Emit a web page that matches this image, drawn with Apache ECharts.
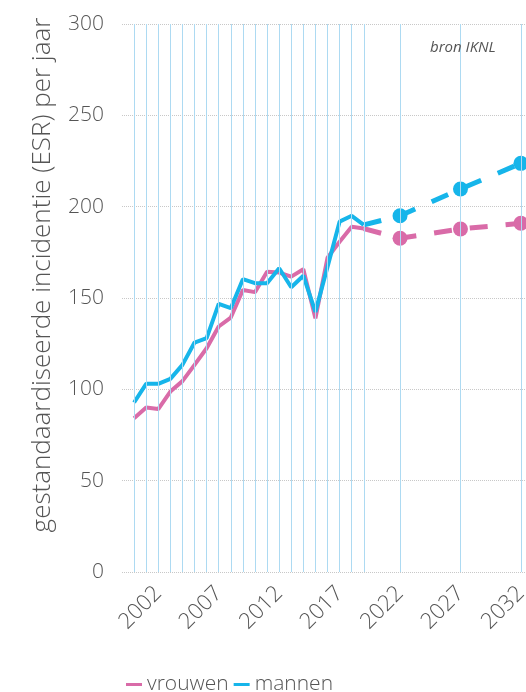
<!DOCTYPE html>
<html>
<head>
<meta charset="utf-8">
<script src="https://cdn.jsdelivr.net/npm/echarts@6/dist/echarts.min.js"></script>
<style>
  html, body { margin: 0; padding: 0; background: #fff; overflow: hidden; }
  #chart { width: 526px; height: 692px; }
</style>
</head>
<body>
<div id="chart"></div>
<script>
// gemeten jaren
const years = [2000, 2001, 2002, 2003, 2004, 2005, 2006, 2007, 2008, 2009,
  2010, 2011, 2012, 2013, 2014, 2015, 2016, 2017, 2018, 2019]
const vrouwen = [84.2, 90.0, 89.2, 98.8, 104.5, 113.4, 122.5, 134.4, 139.3, 154.4,
  153.2, 164.4, 163.9, 161.7, 165.7, 138.9, 172, 180.8, 189, 188]
const mannen = [92.8, 103, 103, 105.7, 113.4, 125.6, 128, 146.8, 144.4, 160.3,
  158.1, 158.1, 166.3, 155.9, 162.2, 142.4, 167, 191.8, 195, 190]

// prognose
const projYears = [2022, 2027, 2032]
const vrouwenProj = [182.7, 187.8, 190.9]
const mannenProj = [195, 209.7, 223.7]

const labelYears = [2002, 2007, 2012, 2017, 2022, 2027, 2032]
const yTicks = [0, 50, 100, 150, 200, 250, 300]

const PINK = '#d96ba8'
const BLUE = '#16b5ea'
const GREY = '#555'
const FONT = '"Open Sans", sans-serif'

const pairs = (xs, ys) => xs.map((x, i) => [x, ys[i]])
const projData = (hist, proj) => {
  const last = hist.length - 1
  return [{ value: [years[last], hist[last]], symbolSize: 0 }].concat(pairs(projYears, proj))
}

const chart = echarts.init(document.getElementById('chart'))
const option = {
  animation: false,
  textStyle: { fontFamily: FONT },
  title: {
    text: 'bron IKNL',
    left: 425,
    top: 35,
    textStyle: { fontSize: 15, fontStyle: 'italic', fontWeight: 'normal', color: GREY, fontFamily: FONT }
  },
  legend: {
    data: ['vrouwen', 'mannen'],
    left: 121,
    top: 669,
    icon: 'rect',
    itemWidth: 16,
    itemHeight: 3,
    itemGap: 5,
    textStyle: { fontSize: 21, color: GREY, fontFamily: FONT, fontWeight: 300 }
  },
  grid: {
    left: 122,
    right: -7,
    top: 24,
    bottom: 120,
    outerBoundsMode: 'none'
  },
  xAxis: {
    type: 'value',
    min: 1999,
    max: 2033,
    interval: 1,
    axisLine: { show: false },
    axisTick: { show: false },
    splitLine: { show: false },
    axisLabel: {
      rotate: 45,
      margin: 18,
      fontSize: 22,
      color: GREY,
      fontFamily: FONT,
      fontWeight: 300,
      formatter: v => labelYears.indexOf(v) >= 0 ? String(v) : ''
    }
  },
  yAxis: {
    type: 'value',
    min: yTicks[0],
    max: yTicks[yTicks.length - 1],
    interval: 50,
    name: 'gestandaardiseerde incidentie (ESR) per jaar',
    nameLocation: 'middle',
    nameGap: 66,
    nameTextStyle: { fontSize: 26, color: GREY, fontFamily: FONT, fontWeight: 300, padding: [0, 0, 0, 46] },
    axisLine: { show: false },
    axisTick: { show: false },
    axisLabel: { fontSize: 21, color: GREY, margin: 18, fontFamily: FONT, fontWeight: 300 },
    splitLine: { lineStyle: { color: '#c8c8c8', type: 'dotted', width: 1 } }
  },
  series: [
    {
      name: 'vrouwen',
      type: 'line',
      data: pairs(years, vrouwen),
      showSymbol: false,
      symbol: 'none',
      color: PINK,
      lineStyle: { width: 4, color: PINK },
      z: 3,
      // verticale jaarlijnen
      markLine: {
        silent: true,
        symbol: 'none',
        label: { show: false },
        lineStyle: { color: '#addaf2', width: 1, type: 'solid' },
        data: years.concat(projYears).map(y => ({ xAxis: y }))
      }
    },
    {
      name: 'vrouwen',
      type: 'line',
      data: projData(vrouwen, vrouwenProj),
      symbol: 'circle',
      symbolSize: 15,
      color: PINK,
      lineStyle: { width: 5, color: PINK, type: [18, 18] },
      itemStyle: { color: PINK },
      z: 3
    },
    {
      name: 'mannen',
      type: 'line',
      data: pairs(years, mannen),
      showSymbol: false,
      symbol: 'none',
      color: BLUE,
      lineStyle: { width: 4, color: BLUE },
      z: 4
    },
    {
      name: 'mannen',
      type: 'line',
      data: projData(mannen, mannenProj),
      symbol: 'circle',
      symbolSize: 15,
      color: BLUE,
      lineStyle: { width: 5, color: BLUE, type: [18, 18] },
      itemStyle: { color: BLUE },
      z: 4
    }
  ]
}
chart.setOption(option)
</script>
</body>
</html>
